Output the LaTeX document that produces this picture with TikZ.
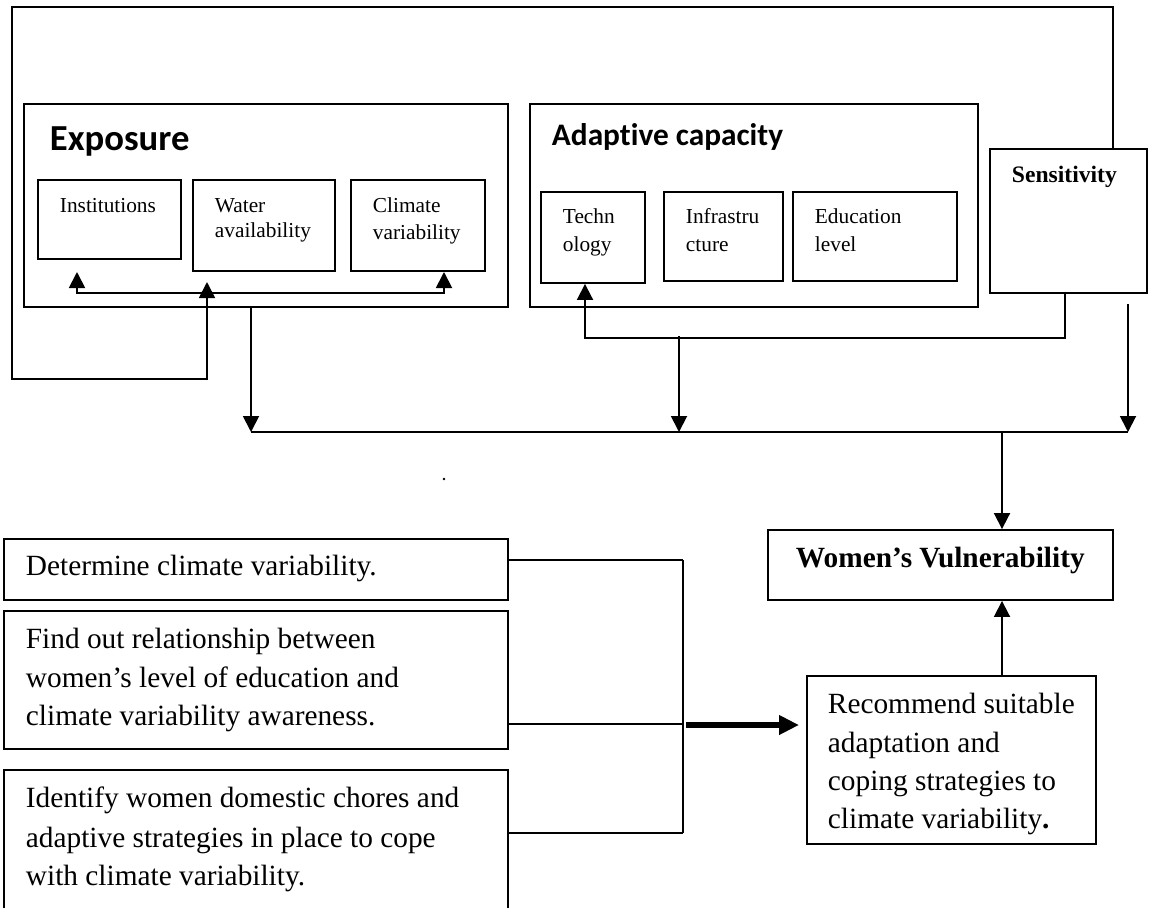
\documentclass[tikz,border=0pt]{standalone}
\usepackage{fontspec}
\setmainfont{Liberation Serif}
\newfontfamily\calib[Ligatures=NoCommon]{Carlito}
\usetikzlibrary{arrows.meta,fit}
\begin{document}
\begin{tikzpicture}[x=0.75pt,y=-0.75pt,
  line width=1.4pt,
  box/.style={draw, inner sep=0pt},
  arr/.style={-{Triangle[length=12pt,width=12pt]}},
  barr/.style={{Triangle[length=12pt,width=12pt]}-{Triangle[length=12pt,width=12pt]}},
  thick arr/.style={line width=5pt,-{Triangle[length=15pt,width=14pt]}},
  small/.style={anchor=base west, inner sep=0pt, font=\fontsize{16}{19}\selectfont},
  big/.style={anchor=base west, inner sep=0pt, font=\fontsize{22}{26}\selectfont},
  head/.style={anchor=base west, inner sep=0pt},
]
\useasboundingbox (0,0) rectangle (1149,907);
\clip (0,0) rectangle (1149,907);

% boxes
\node[box, fit={(24,104) (508,307)}] (expo) {};
\node[box, fit={(38,180) (181,259)}] (inst) {};
\node[box, fit={(193,180) (335,271)}] (water) {};
\node[box, fit={(351,180) (485,271)}] (clim) {};
\node[box, fit={(530,104) (978,307)}] (adap) {};
\node[box, fit={(541,192) (645,283)}] (tech) {};
\node[box, fit={(664,192) (783,281)}] (infra) {};
\node[box, fit={(793,192) (957,281)}] (edu) {};
\node[box, fit={(990,149) (1147,293)}] (sens) {};
\node[box, fit={(768,530) (1113,600)}] (vuln) {};
\node[box, fit={(807,676) (1096,844)}] (rec) {};
\node[box, fit={(4,539) (508,600)}] (o1) {};
\node[box, fit={(4,611) (508,749)}] (o2) {};
\node[box, fit={(4,770) (508,940)}] (o3) {};

% titles
\node[head, font=\calib\bfseries\fontsize{27.5}{31}\selectfont] (expoT) at (49,150) {Exposure};
\node[head, font=\calib\bfseries\fontsize{23.5}{27}\selectfont] (adapT) at (551,145) {Adaptive capacity};
\node[head, font=\bfseries\fontsize{17.7}{21}\selectfont] (sensT) at (1011,182) {Sensitivity};
\node[head, font=\bfseries\fontsize{22}{26}\selectfont] (vulnT) at (795,567) {Women’s Vulnerability};

% small box texts
\node[small] (instT) at (59,212) {Institutions};
\node[small] (waterT1) at (214,212) {Water};
\node[small] (waterT2) at (214,237) {availability};
\node[small] (climT1) at (372,212) {Climate};
\node[small] (climT2) at (372,239) {variability};
\node[small] (techT1) at (562,223) {Techn};
\node[small] (techT2) at (562,251) {ology};
\node[small] (infraT1) at (685,223) {Infrastru};
\node[small] (infraT2) at (685,251) {cture};
\node[small] (eduT1) at (814,223) {Education};
\node[small] (eduT2) at (814,251) {level};

% large texts
\node[big] (o1T) at (25,575) {Determine climate variability.};
\node[big] (o2T1) at (25,648) {Find out relationship between};
\node[big] (o2T2) at (25,687) {women’s level of education and};
\node[big] (o2T3) at (25,725) {climate variability awareness.};
\node[big] (o3T1) at (25,807) {Identify women domestic chores and};
\node[big] (o3T2) at (25,847) {adaptive strategies in place to cope};
\node[big] (o3T3) at (25,885) {with climate variability.};
\node[big] (recT1) at (827,713) {Recommend suitable};
\node[big] (recT2) at (827,752) {adaptation and};
\node[big] (recT3) at (827,790) {coping strategies to};
\node[big] (recT4) at (827,828) {climate variability\textbf{.}};

% coordinates
\coordinate (fx) at (1113,7);
\coordinate (ftl) at (12,7);
\coordinate (fbl) at (12,379);
\coordinate (fwb) at (207,379);
\coordinate (fwt) at (207,282);
\coordinate (ea) at (77,293);
\coordinate (eb) at (444,293);
\coordinate (ea2) at (77,272);
\coordinate (eb2) at (444,272);
\coordinate (jl) at (251,432);
\coordinate (jr) at (1128,432);
\coordinate (jrt) at (1128,304);
\coordinate (tx) at (585,338);
\coordinate (sx) at (1065,338);
\coordinate (mt) at (679,336);
\coordinate (mb) at (679,432);
\coordinate (vx) at (1002,432);
\coordinate (bx1) at (683,560);
\coordinate (bx2) at (683,724);
\coordinate (bx3) at (683,833);
\coordinate (ta) at (686,725);
\coordinate (tb) at (799,725);

% connectors
\draw[arr] (fx |- sens.north) -- (fx) -- (ftl) -- (fbl) -- (fwb) -- (fwt);
\draw[barr] (ea2) -- (ea) -- (eb) -- (eb2);
\draw[arr] (expo.south -| jl) -- (jl);
\draw (jl) -- (jr);
\draw[arr] (jrt) -- (jr);
\draw[arr] (sx |- sens.south) -- (sx) -- (tx) -- (tx |- tech.south);
\draw[arr] (mt) -- (mb);
\draw[arr] (vx) -- (vx |- vuln.north);
\draw[arr] (vx |- rec.north) -- (vx |- vuln.south);
\draw (o1.east |- bx1) -- (bx1);
\draw (o2.east |- bx2) -- (bx2);
\draw (o3.east |- bx3) -- (bx3);
\draw (bx1) -- (bx3);
\draw[thick arr] (ta) -- (tb);

% stray dot
\fill (444,479) circle[radius=1.3];
\end{tikzpicture}
\end{document}
